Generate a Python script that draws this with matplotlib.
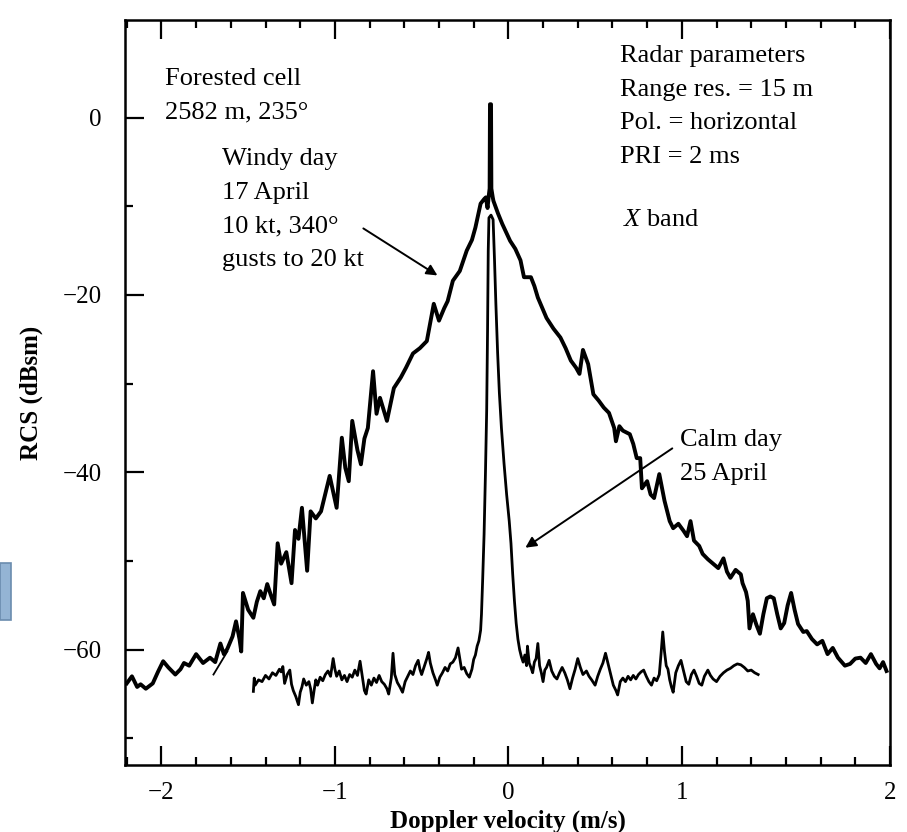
import matplotlib
matplotlib.use('Agg')
import matplotlib.pyplot as plt
from matplotlib.patches import Rectangle
from matplotlib.ticker import MultipleLocator, FixedLocator

plt.rcParams['font.family'] = ['Liberation Serif', 'DejaVu Serif']
plt.rcParams['mathtext.fontset'] = 'custom'
plt.rcParams['mathtext.it'] = 'Liberation Serif:italic'
plt.rcParams['mathtext.rm'] = 'Liberation Serif'

# Windy day, 17 April
windy_v = [-2.20, -2.17, -2.14, -2.12, -2.09, -2.05, -2.02, -1.99, -1.96, -1.92,
           -1.89, -1.87, -1.84, -1.80, -1.78, -1.76, -1.72, -1.69, -1.66, -1.64,
           -1.62, -1.59, -1.57, -1.55, -1.54, -1.53, -1.50, -1.47, -1.45, -1.43,
           -1.41, -1.39, -1.37, -1.35, -1.33, -1.31, -1.28, -1.25, -1.23, -1.21,
           -1.19, -1.16, -1.14, -1.11, -1.08, -1.05, -1.03, -0.99, -0.96, -0.94,
           -0.92, -0.90, -0.87, -0.85, -0.83, -0.81, -0.78, -0.76, -0.74, -0.70,
           -0.66, -0.62, -0.59, -0.55, -0.51, -0.47, -0.43, -0.40, -0.37, -0.35,
           -0.32, -0.28, -0.24, -0.21, -0.19, -0.16, -0.14, -0.13, -0.12, -0.113,
           -0.108, -0.106, -0.100, -0.098, -0.09, -0.086, -0.06, -0.035, 0.01, 0.04,
           0.07, 0.09, 0.13, 0.15, 0.17, 0.22, 0.26, 0.30, 0.33, 0.36,
           0.39, 0.41, 0.43, 0.46, 0.49, 0.52, 0.55, 0.58, 0.61, 0.62,
           0.64, 0.66, 0.70, 0.72, 0.74, 0.76, 0.77, 0.80, 0.82, 0.84,
           0.87, 0.90, 0.93, 0.95, 0.98, 1.01, 1.03, 1.05, 1.07, 1.10,
           1.12, 1.15, 1.18, 1.21, 1.24, 1.26, 1.28, 1.31, 1.34, 1.35,
           1.37, 1.38, 1.39, 1.41, 1.43, 1.45, 1.47, 1.49, 1.51, 1.53,
           1.55, 1.57, 1.59, 1.61, 1.63, 1.65, 1.67, 1.70, 1.72, 1.75,
           1.78, 1.81, 1.84, 1.87, 1.90, 1.94, 1.97, 2.00, 2.03, 2.06,
           2.09, 2.12, 2.14, 2.16, 2.18]
windy_rcs = [-63.8, -63.0, -64.2, -63.9, -64.4, -63.8, -62.5, -61.3, -62.0, -62.8,
             -62.2, -61.5, -61.8, -60.5, -61.0, -61.5, -60.9, -61.4, -59.3, -60.5,
             -59.9, -58.5, -56.8, -58.8, -60.2, -53.6, -55.5, -56.4, -54.6, -53.4,
             -54.2, -52.6, -53.8, -54.9, -48.0, -50.3, -49.0, -52.5, -46.5, -47.5,
             -44.0, -51.1, -44.4, -45.2, -44.4, -42.0, -40.4, -44.0, -36.1, -39.5,
             -41.0, -34.2, -37.5, -39.1, -36.2, -35.0, -28.6, -33.4, -31.6, -34.2,
             -30.5, -29.3, -28.2, -26.6, -26.0, -25.2, -21.0, -22.9, -21.5, -20.7,
             -18.4, -17.3, -15.0, -13.8, -12.4, -9.7, -9.2, -9.0, -10.2, -8.8,
             -8.0, 1.5, 1.5, -8.0, -9.0, -9.4, -10.8, -12.0, -13.9, -14.8,
             -16.1, -18.0, -18.0, -19.0, -20.3, -22.6, -23.8, -24.8, -26.0, -27.4,
             -28.2, -28.9, -26.2, -27.8, -31.2, -31.9, -32.7, -33.3, -35.0, -36.5,
             -34.8, -35.3, -35.7, -36.8, -38.4, -38.4, -41.8, -41.0, -42.5, -42.9,
             -40.2, -43.2, -45.5, -46.3, -45.8, -46.6, -47.2, -45.5, -47.7, -48.3,
             -49.2, -49.8, -50.3, -50.8, -49.7, -51.2, -51.9, -51.0, -51.5, -52.5,
             -53.5, -54.5, -57.6, -56.0, -57.2, -58.2, -56.0, -54.2, -54.0, -54.2,
             -56.0, -57.6, -57.0, -55.0, -53.6, -55.5, -57.1, -58.0, -57.9, -58.8,
             -59.4, -59.0, -60.5, -59.8, -60.9, -61.8, -61.6, -61.0, -60.9, -61.5,
             -60.5, -61.6, -62.1, -61.4, -62.4]

# Calm day, 25 April
calm_v = [-1.47, -1.465, -1.46, -1.44, -1.42, -1.40, -1.38, -1.36, -1.34, -1.32,
          -1.31, -1.30, -1.29, -1.275, -1.26, -1.25, -1.24, -1.225, -1.21, -1.20,
          -1.19, -1.18, -1.165, -1.15, -1.14, -1.13, -1.12, -1.11, -1.10, -1.085,
          -1.07, -1.055, -1.04, -1.025, -1.01, -1.00, -0.99, -0.975, -0.96, -0.945,
          -0.93, -0.915, -0.90, -0.885, -0.87, -0.855, -0.845, -0.83, -0.82, -0.805,
          -0.79, -0.775, -0.76, -0.745, -0.73, -0.715, -0.70, -0.69, -0.675, -0.665,
          -0.655, -0.64, -0.625, -0.61, -0.595, -0.58, -0.565, -0.55, -0.535, -0.52,
          -0.51, -0.50, -0.485, -0.47, -0.46, -0.45, -0.435, -0.42, -0.41, -0.395,
          -0.38, -0.365, -0.35, -0.335, -0.32, -0.305, -0.29, -0.28, -0.27, -0.255,
          -0.24, -0.225, -0.21, -0.20, -0.19, -0.18, -0.17,
          -0.16, -0.155, -0.148, -0.14, -0.132, -0.125, -0.12, -0.116, -0.112, -0.10,
          -0.088, -0.08, -0.072, -0.062, -0.052, -0.04, -0.025, -0.01, 0.005, 0.015,
          0.025, 0.035, 0.045, 0.055, 0.065,
          0.075, 0.085, 0.095, 0.105, 0.11, 0.12, 0.13, 0.14, 0.15, 0.16,
          0.17, 0.18, 0.19, 0.20, 0.21, 0.22, 0.235, 0.25, 0.265, 0.28,
          0.295, 0.31, 0.325, 0.34, 0.355, 0.37, 0.385, 0.40, 0.415, 0.43,
          0.45, 0.465, 0.48, 0.50, 0.515, 0.53, 0.545, 0.56, 0.575, 0.59,
          0.605, 0.62, 0.63, 0.645, 0.66, 0.675, 0.69, 0.705, 0.72, 0.735,
          0.75, 0.765, 0.78, 0.795, 0.81, 0.825, 0.84, 0.855, 0.87, 0.88,
          0.89, 0.90, 0.91, 0.92, 0.93, 0.94, 0.95, 0.965, 0.98, 0.995,
          1.01, 1.025, 1.04, 1.055, 1.07, 1.085, 1.10, 1.115, 1.13, 1.15,
          1.165, 1.18, 1.20, 1.22, 1.24, 1.26, 1.28, 1.30, 1.32, 1.34,
          1.36, 1.38, 1.40, 1.42, 1.44]
calm_rcs = [-64.7, -63.2, -64.0, -63.4, -63.6, -62.9, -63.3, -62.6, -62.9, -62.2,
            -62.5, -61.9, -63.8, -62.8, -62.3, -63.9, -64.6, -65.3, -66.2, -64.8,
            -64.2, -63.3, -64.0, -63.6, -64.4, -66.0, -64.6, -63.4, -64.0, -63.1,
            -63.5, -62.8, -62.4, -63.0, -61.0, -62.2, -63.0, -62.4, -63.4, -62.9,
            -63.6, -62.8, -63.1, -62.3, -62.9, -61.3, -62.6, -64.6, -65.0, -63.4,
            -64.0, -63.2, -63.7, -62.9, -63.6, -63.9, -64.4, -65.0, -63.2, -60.4,
            -62.8, -63.7, -64.2, -64.8, -63.6, -63.0, -62.4, -62.8, -61.8, -61.2,
            -62.2, -62.8, -61.9, -61.0, -60.3, -61.5, -62.6, -63.4, -64.0, -63.1,
            -62.6, -62.0, -62.4, -61.6, -61.4, -60.9, -59.8, -61.0, -62.2, -62.0,
            -62.7, -63.1, -62.2, -61.1, -60.6, -59.6, -59.0,
            -57.8, -56.0, -52.0, -47.0, -40.0, -33.0, -24.0, -15.0, -11.3, -11.0,
            -11.5, -16.0, -21.0, -26.5, -31.0, -35.0, -39.0, -42.5, -45.5, -48.0,
            -51.5, -54.5, -57.0, -58.8, -60.0,
            -60.8, -61.4, -60.6, -61.8, -59.6, -61.5, -62.0, -62.6, -61.4, -61.0,
            -59.3, -61.8, -62.6, -63.6, -62.3, -62.0, -61.2, -62.4, -63.0, -63.3,
            -62.6, -62.0, -62.6, -63.4, -64.4, -63.2, -62.2, -61.0, -62.0, -62.8,
            -62.4, -63.0, -63.4, -64.0, -63.0, -62.2, -61.5, -60.4, -61.6, -62.8,
            -64.0, -64.6, -65.1, -63.6, -63.2, -63.6, -63.0, -63.4, -62.9, -63.3,
            -62.8, -62.5, -62.3, -63.0, -63.6, -64.0, -63.2, -63.5, -62.8, -60.5,
            -58.0, -60.2, -61.8, -62.2, -63.4, -64.2, -64.8, -62.6, -61.8, -61.2,
            -62.4, -63.6, -63.9, -62.8, -62.3, -63.0, -63.8, -64.0, -63.0, -62.3,
            -62.9, -63.3, -63.6, -63.0, -62.6, -62.3, -62.1, -61.8, -61.6, -61.7,
            -62.0, -62.4, -62.3, -62.6, -62.8]

# short stray trace under the windy curve
stray_v = [-1.70, -1.62]
stray_rcs = [-62.8, -60.2]

fig = plt.figure(figsize=(9.07, 8.32), dpi=100)
ax = fig.add_axes([125 / 907, 1 - 765 / 832, 765 / 907, 745 / 832])

ax.plot(windy_v, windy_rcs, color='black', lw=2.8)
ax.plot(calm_v, calm_rcs, color='black', lw=2.0)
ax.plot(stray_v, stray_rcs, color='black', lw=1.3)

ax.set_xlim(-2.21, 2.2)
ax.set_ylim(-73, 11)

# x ticks: the scan prints "2" at the right frame edge
ax.xaxis.set_major_locator(FixedLocator([-2, -1, 0, 1, 2.2]))
ax.set_xticklabels(['\u22122', '\u22121', '0', '1', '2'])
ax.xaxis.set_minor_locator(MultipleLocator(0.2))
ax.set_yticks([0, -20, -40, -60])
ax.set_yticklabels(['0', '\u221220', '\u221240', '\u221260'])
ax.yaxis.set_minor_locator(FixedLocator([-70, -50, -30, -10]))

ax.tick_params(axis='x', which='both', direction='in', top=True, bottom=True,
               labelsize=18, pad=12, width=1.6)
ax.tick_params(axis='y', which='both', direction='in', left=True, right=False,
               labelsize=18, pad=17, width=1.6)
ax.tick_params(which='major', length=14)
ax.tick_params(which='minor', length=6)
for s in ax.spines.values():
    s.set_linewidth(1.8)

ax.set_xlabel('Doppler velocity (m/s)', fontsize=18, fontweight='bold', labelpad=4)
ax.set_ylabel('RCS (dBsm)', fontsize=18, fontweight='bold', labelpad=14)

ax.text(-1.977, 5.6, 'Forested cell\n2582 m, 235\u00b0', fontsize=19,
        va='top', ha='left', linespacing=1.68)
ax.text(-1.648, -3.45, 'Windy day\n17 April\n10 kt, 340\u00b0\ngusts to 20 kt',
        fontsize=19, va='top', ha='left', linespacing=1.68)
ax.text(0.646, 8.15, 'Radar parameters\nRange res. = 15 m\nPol. = horizontal\nPRI = 2 ms',
        fontsize=19, va='top', ha='left', linespacing=1.68)
ax.text(0.663, -10.35, r'$\mathit{X}$ band', fontsize=19, va='top', ha='left')
ax.text(0.991, -35.15, 'Calm day\n25 April', fontsize=19, va='top', ha='left',
        linespacing=1.68)

ax.annotate('', xy=(-0.409, -17.8), xytext=(-0.836, -12.5),
            arrowprops=dict(arrowstyle='-|>', color='black', lw=1.4,
                            mutation_scale=16, shrinkA=0, shrinkB=0))
ax.annotate('', xy=(0.098, -48.5), xytext=(0.945, -37.3),
            arrowprops=dict(arrowstyle='-|>', color='black', lw=1.4,
                            mutation_scale=16, shrinkA=0, shrinkB=0))

# blue tab at left edge of the scan
fig.patches.append(Rectangle((0, 1 - 620 / 832), 11 / 907, 57 / 832,
                             transform=fig.transFigure, facecolor='#94b4d4',
                             edgecolor='#6b8cae', lw=1.2))

fig.savefig('out.png', dpi=100)
